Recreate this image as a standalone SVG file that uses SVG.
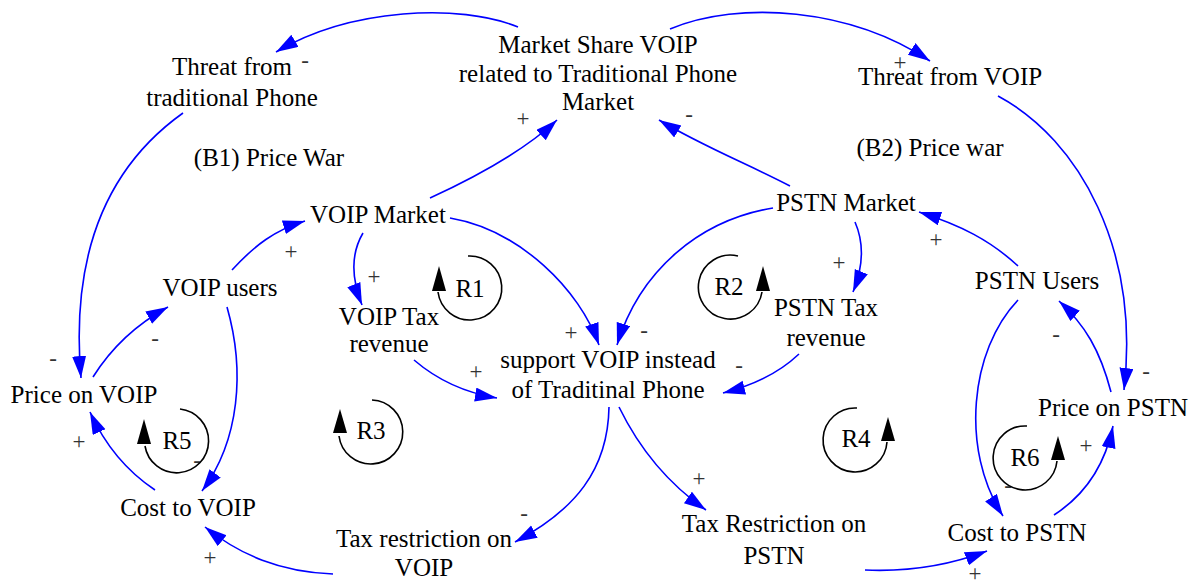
<svg xmlns="http://www.w3.org/2000/svg" width="1197" height="584" viewBox="0 0 1197 584">
<style>
.n{font-family:"Liberation Serif","Times New Roman",serif;font-size:25px;fill:#000;text-anchor:middle}
.p{font-family:"Liberation Serif","Times New Roman",serif;font-size:23px;fill:#333;text-anchor:middle}
.c{fill:none;stroke:#0000FF;stroke-width:1.6;marker-end:url(#ah)}
.loop{fill:none;stroke:#000;stroke-width:1.6}
.lh{fill:#000}
</style>
<defs>
<marker id="ah" markerUnits="userSpaceOnUse" markerWidth="24" markerHeight="16" refX="22" refY="7" orient="auto">
<path d="M0,0 L22,7 L0,14 z" fill="#0000FF"/>
</marker>
</defs>
<rect width="1197" height="584" fill="#fff"/>
<g id="connectors">
<path class="c" d="M518,27 C460,3 350,8 276,52"/>
<path class="c" d="M670,29 C740,0 850,8 930,61"/>
<path class="c" d="M183,113 C110,165 70,250 81,378"/>
<path class="c" d="M998,96 C1080,140 1140,250 1124,390"/>
<path class="c" d="M232,270 C255,245 275,230 305,221"/>
<path class="c" d="M93,377 C110,350 135,325 168,307"/>
<path class="c" d="M227,307 C245,370 240,440 202,491"/>
<path class="c" d="M155,490 C125,470 105,445 90,412"/>
<path class="c" d="M333,574 C280,572 240,555 205,527"/>
<path class="c" d="M430,198 C480,175 525,150 557,120"/>
<path class="c" d="M790,186 C750,165 700,145 659,120"/>
<path class="c" d="M450,218 C520,230 580,290 599,345"/>
<path class="c" d="M773,208 C700,220 640,270 617,345"/>
<path class="c" d="M363,233 C350,255 352,280 362,305"/>
<path class="c" d="M855,222 C865,245 862,270 853,292"/>
<path class="c" d="M1018,266 C990,240 960,225 919,212"/>
<path class="c" d="M414,360 C435,378 460,392 497,398"/>
<path class="c" d="M799,354 C780,372 755,385 723,393"/>
<path class="c" d="M609,407 C608,470 575,510 515,542"/>
<path class="c" d="M619,407 C640,450 670,485 706,510"/>
<path class="c" d="M865,570 C910,572 950,565 987,551"/>
<path class="c" d="M1018,300 C970,350 960,450 1003,516"/>
<path class="c" d="M1111,392 C1100,350 1085,325 1059,301"/>
<path class="c" d="M1054,515 C1085,495 1105,465 1113,426"/>
</g>
<g id="polarities">
<text class="p" x="305" y="68">-</text>
<text class="p" x="900" y="70">+</text>
<text class="p" x="53" y="366">-</text>
<text class="p" x="1146" y="379">-</text>
<text class="p" x="291" y="259">+</text>
<text class="p" x="155" y="346">-</text>
<text class="p" x="197" y="468">-</text>
<text class="p" x="79" y="449">+</text>
<text class="p" x="210" y="565">+</text>
<text class="p" x="523" y="126">+</text>
<text class="p" x="689" y="122">-</text>
<text class="p" x="571" y="340">+</text>
<text class="p" x="644" y="338">-</text>
<text class="p" x="374" y="284">+</text>
<text class="p" x="839" y="270">+</text>
<text class="p" x="936" y="247">+</text>
<text class="p" x="476" y="379">+</text>
<text class="p" x="739" y="373">-</text>
<text class="p" x="524" y="521">-</text>
<text class="p" x="699" y="486">+</text>
<text class="p" x="975" y="581">+</text>
<text class="p" x="1008" y="493">-</text>
<text class="p" x="1056" y="342">-</text>
<text class="p" x="1086" y="453">+</text>
</g>
<g id="loop-R1"><path class="loop" d="M468,256 A32,32 0 1 1 438,292"/><polygon class="lh" points="439,266 432,291 446,291"/><text class="n" x="470" y="297">R1</text></g>
<g id="loop-R2"><path class="loop" d="M738,256 A32,32 0 1 0 762,292"/><polygon class="lh" points="763,266 756,291 770,291"/><text class="n" x="729" y="295">R2</text></g>
<g id="loop-R3"><path class="loop" d="M372,400 A32,32 0 1 1 339,436"/><polygon class="lh" points="340,409 333,433 347,433"/><text class="n" x="371" y="439">R3</text></g>
<g id="loop-R4"><path class="loop" d="M857,408 A32,32 0 1 0 887,442"/><polygon class="lh" points="888,417 881,441 895,441"/><text class="n" x="856" y="447">R4</text></g>
<g id="loop-R5"><path class="loop" d="M180,409 A32,32 0 1 1 145,446"/><polygon class="lh" points="144,419 137,444 151,444"/><text class="n" x="177" y="449">R5</text></g>
<g id="loop-R6"><path class="loop" d="M1027,426 A32,32 0 1 0 1057,461"/><polygon class="lh" points="1058,436 1051,460 1065,460"/><text class="n" x="1025" y="466">R6</text></g>
<g id="threat-trad"><text class="n" x="232" y="75">Threat from</text><text class="n" x="232" y="106">traditional Phone</text></g>
<g id="market-share"><text class="n" x="598" y="53">Market Share VOIP</text><text class="n" x="598" y="82">related to Traditional Phone</text><text class="n" x="598" y="110">Market</text></g>
<g id="threat-voip"><text class="n" x="950" y="85">Threat from VOIP</text></g>
<g id="b1"><text class="n" x="269" y="166">(B1) Price War</text></g>
<g id="b2"><text class="n" x="930" y="156">(B2) Price war</text></g>
<g id="voip-market"><text class="n" x="378" y="223">VOIP Market</text></g>
<g id="pstn-market"><text class="n" x="846" y="211">PSTN Market</text></g>
<g id="voip-users"><text class="n" x="220" y="296">VOIP users</text></g>
<g id="pstn-users"><text class="n" x="1037" y="289">PSTN Users</text></g>
<g id="voip-tax"><text class="n" x="389" y="325">VOIP Tax</text><text class="n" x="389" y="352">revenue</text></g>
<g id="pstn-tax"><text class="n" x="826" y="316">PSTN Tax</text><text class="n" x="826" y="346">revenue</text></g>
<g id="support"><text class="n" x="608" y="368">support VOIP instead</text><text class="n" x="608" y="398">of Traditinal Phone</text></g>
<g id="price-voip"><text class="n" x="84" y="403">Price on VOIP</text></g>
<g id="price-pstn"><text class="n" x="1113" y="416">Price on PSTN</text></g>
<g id="cost-voip"><text class="n" x="188" y="516">Cost to VOIP</text></g>
<g id="cost-pstn"><text class="n" x="1017" y="541">Cost to PSTN</text></g>
<g id="tax-voip"><text class="n" x="424" y="547">Tax restriction on</text><text class="n" x="424" y="576">VOIP</text></g>
<g id="tax-pstn"><text class="n" x="774" y="532">Tax Restriction on</text><text class="n" x="774" y="564">PSTN</text></g>
</svg>
